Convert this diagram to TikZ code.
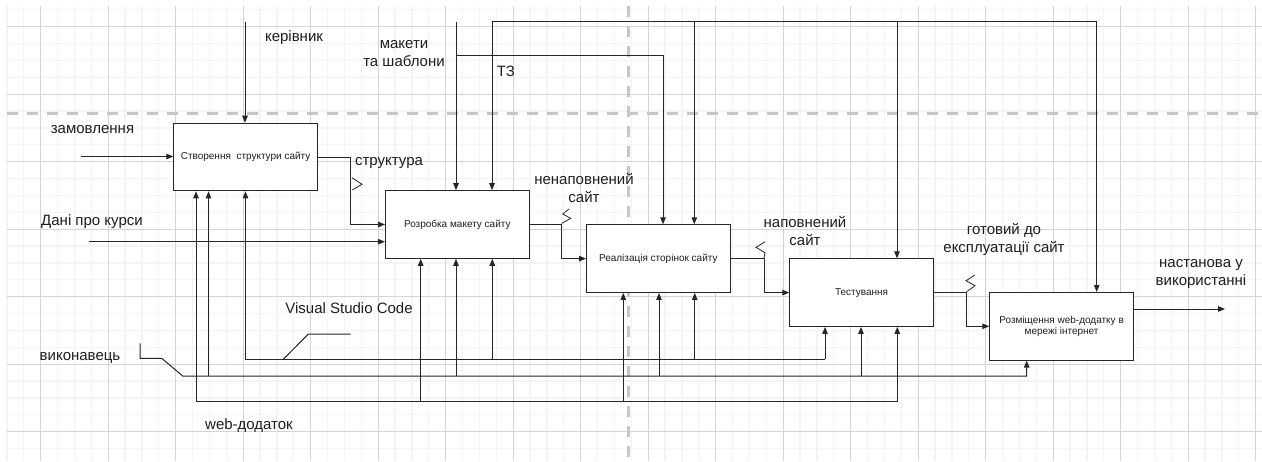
\documentclass[tikz,border=0pt]{standalone}
\usepackage{fontspec}
\setmainfont{Liberation Sans}
\usetikzlibrary{arrows.meta}
\definecolor{gmin}{HTML}{F4F4F4}
\definecolor{gmaj}{HTML}{D4D4D4}
\definecolor{dsh}{HTML}{C6C6C6}
\definecolor{ink}{HTML}{262626}
\definecolor{txt}{HTML}{1E1E1E}
\begin{document}
\begin{tikzpicture}[x=1pt,y=-1pt,
  conn/.style={draw=ink, line width=1pt},
  arr/.style={conn, -{Triangle[length=7pt,width=5.5pt]}},
  squig/.style={draw=ink, line width=0.8pt},
  proc/.style={draw=ink, line width=1.1pt, fill=white, minimum width=143.5pt, minimum height=67.5pt, anchor=north west, inner sep=2pt, font=\fontsize{10}{12}\selectfont, align=center, text=txt},
  lbl/.style={font=\fontsize{15}{18}\selectfont, align=center, text=txt, inner sep=0pt},
]
\useasboundingbox (0,0) rectangle (1262,461);
\fill[white] (0,0) rectangle (1262,461);
% grid
\foreach \i in {0,...,74} \draw[gmin, line width=1.3pt] ({6.95+16.875*\i},6) -- ({6.95+16.875*\i},461);
\foreach \j in {0,...,26} \draw[gmin, line width=1.3pt] (7,{9.8+16.875*\j}) -- (1262,{9.8+16.875*\j});
\foreach \i in {0,...,18} \draw[gmaj, line width=1.2pt] ({40.7+67.5*\i},6) -- ({40.7+67.5*\i},461);
\foreach \j in {0,...,6} \draw[gmaj, line width=1.2pt] (7,{26.7+67.5*\j}) -- (1262,{26.7+67.5*\j});
% dashed separators
\draw[dsh, line width=2.6pt, dash pattern=on 11pt off 9pt] (7,113.3) -- (1262,113.3);
\draw[dsh, line width=2.6pt, dash pattern=on 11pt off 9pt] (628.3,6) -- (628.3,461);

% boxes
\node[proc] (b1) at (173.3,122.7) {Створення\ \ структури сайту};
\node[proc] (b2) at (385,190.2) {Розробка макету сайту};
\node[proc] (b3) at (586,224.3) {Реалізація сторінок сайту};
\node[proc] (b4) at (789.3,258.3) {Тестування};
\node[proc] (b5) at (989.3,292) {Розміщення web-додатку в\\[-1pt]мережі інтернет};

% controls
\coordinate (kerTop) at (245,21.7);
\draw[arr] (kerTop) -- (kerTop |- b1.north);
\coordinate (makTop) at (456,21.7);
\draw[arr] (makTop) -- (makTop |- b2.north);
\coordinate (makBr) at (456,55);
\coordinate (makC) at (663,55);
\draw[arr] (makBr) -- (makC) -- (makC |- b3.north);
\coordinate (tzA) at (492,21.7);
\coordinate (tzB) at (694.3,21.7);
\coordinate (tzC) at (897,21.7);
\coordinate (tzD) at (1096.7,21.7);
\draw[arr] (tzD) -- (tzA) -- (tzA |- b2.north);
\draw[arr] (tzB) -- (tzB |- b3.north);
\draw[arr] (tzC) -- (tzC |- b4.north);
\draw[arr] (tzD) -- (tzD |- b5.north);

% inputs
\coordinate (zamS) at (81,156.5);
\draw[arr] (zamS) -- (zamS -| b1.west);
\coordinate (danS) at (89,241.7);
\draw[arr] (danS) -- (danS -| b2.west);

% outputs between boxes
\coordinate (s12) at (350.7,0);
\coordinate (s23) at (561.7,0);
\coordinate (s34) at (764,0);
\coordinate (s45) at (966.7,0);
\draw[arr] (b1.east) -- (b1.east -| s12) -- (s12 |- b2.west) -- (b2.west);
\draw[arr] (b2.east) -- (b2.east -| s23) -- (s23 |- b3.west) -- (b3.west);
\draw[arr] (b3.east) -- (b3.east -| s34) -- (s34 |- b4.west) -- (b4.west);
\draw[arr] (b4.east) -- (b4.east -| s45) -- (s45 |- b5.west) -- (b5.west);
\coordinate (outE) at (1225,309);
\draw[arr] (outE -| b5.east) -- (outE);

% squiggles
\draw[squig] (352,177.7) -- (362,184.3) -- (352.3,190);
\draw[squig] (569,209) -- (562.7,214) -- (570.7,218.3) -- (561.7,223.5);
\draw[squig] (765,241.7) -- (756,247.3) -- (765,252.7) -- (764,258);
\draw[squig] (975,275) -- (966,280.7) -- (975,285.7) -- (966.7,291.7);

% mechanism: Visual Studio Code
\coordinate (v1) at (245.5,359.3);
\coordinate (v2) at (492.3,359.3);
\coordinate (v3) at (694.7,359.3);
\coordinate (v4) at (825,359.3);
\draw[arr] (v4) -- (v1) -- (v1 |- b1.south);
\draw[arr] (v2) -- (v2 |- b2.south);
\draw[arr] (v3) -- (v3 |- b3.south);
\draw[arr] (v4) -- (v4 |- b4.south);
\coordinate (vc1) at (350.7,334);
\coordinate (vc2) at (308.3,334);
\coordinate (vc3) at (283.3,359.3);
\draw[conn] (vc1) -- (vc2) -- (vc3);

% mechanism: виконавець
\coordinate (e0) at (140,343.3);
\coordinate (e1) at (140,358.3);
\coordinate (e2) at (161.7,358.3);
\coordinate (e3) at (182.7,376);
\coordinate (e4) at (1026.7,376);
\draw[arr] (e0) -- (e1) -- (e2) -- (e3) -- (e4) -- (e4 |- b5.south);
\coordinate (k1) at (208.5,376);
\coordinate (k2) at (456,376);
\coordinate (k3) at (659,376);
\coordinate (k4) at (861,376);
\draw[arr] (k1) -- (k1 |- b1.south);
\draw[arr] (k2) -- (k2 |- b2.south);
\draw[arr] (k3) -- (k3 |- b3.south);
\draw[arr] (k4) -- (k4 |- b4.south);

% mechanism: web-додаток
\coordinate (w1) at (196,401.7);
\coordinate (w2) at (420.7,401.7);
\coordinate (w3) at (623.3,401.7);
\coordinate (w4) at (897.3,401.7);
\draw[arr] (w4) -- (w1) -- (w1 |- b1.south);
\draw[arr] (w2) -- (w2 |- b2.south);
\draw[arr] (w3) -- (w3 |- b3.south);
\draw[arr] (w4) -- (w4 |- b4.south);

% labels
\node[lbl] (lKer) at (294,38) {керівник};
\node[lbl] (lMak) at (404,53.5) {макети\\та шаблони};
\node[lbl] (lTZ) at (506,71) {ТЗ};
\node[lbl] (lZam) at (92.5,130) {замовлення};
\node[lbl] (lStr) at (389,163) {структура};
\node[lbl] (lDan) at (92,222) {Дані про курси};
\node[lbl] (lNen) at (584,188.5) {ненаповнений\\сайт};
\node[lbl] (lNap) at (805,231) {наповнений\\сайт};
\node[lbl] (lGot) at (1004,239) {готовий до\\експлуатації сайт};
\node[lbl] (lNas) at (1201,274) {настанова у\\використанні};
\node[lbl] (lVSC) at (349,308) {Visual Studio Code};
\node[lbl] (lVyk) at (80,358) {виконавець};
\node[lbl] (lWeb) at (249,426) {web-додаток};
\end{tikzpicture}
\end{document}
